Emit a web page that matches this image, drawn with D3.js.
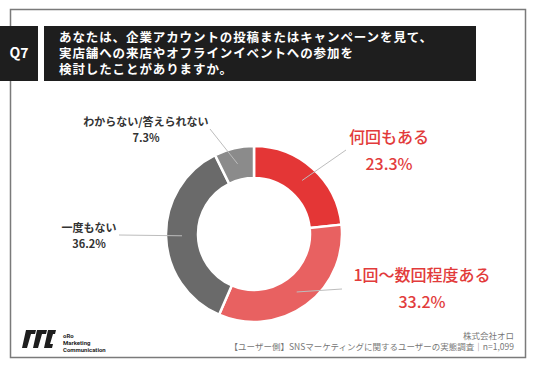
<!DOCTYPE html>
<html>
<head>
<meta charset="utf-8">
<script src="https://cdn.jsdelivr.net/npm/d3@7"></script>
<style>
  body { margin: 0; background: #fff; }
  svg { display: block; font-family: "Noto Sans CJK JP", "Noto Sans", sans-serif; }
</style>
</head>
<body>
<svg width="536" height="371"></svg>
<script>
var categories = ["何回もある", "1回〜数回程度ある", "一度もない", "わからない/答えられない"];
var values = [23.3, 33.2, 36.2, 7.3];
var colors = ["#e43636", "#e86161", "#6a6a6a", "#8b8b8b"];
var titleLines = [
  "あなたは、企業アカウントの投稿またはキャンペーンを見て、",
  "実店舗への来店やオフラインイベントへの参加を",
  "検討したことがありますか。"
];
var footerLines = ["株式会社オロ", "【ユーザー側】SNSマーケティングに関するユーザーの実態調査｜n=1,099"];

var svg = d3.select("svg");
var cx = 254, cy = 234, outerR = 88, innerR = 56;

// frame
svg.append("rect")
  .attr("x", 10.5).attr("y", 9.5)
  .attr("width", 515).attr("height", 348)
  .attr("fill", "none").attr("stroke", "#7a7a7a").attr("stroke-width", 1.5);

// Q7 tag + title bar
svg.append("rect").attr("x", 0).attr("y", 26).attr("width", 38).attr("height", 55).attr("fill", "#1e1e1e");
svg.append("text")
  .attr("x", 19).attr("y", 58)
  .attr("text-anchor", "middle")
  .attr("fill", "#fff").attr("font-weight", "bold").attr("font-size", 14)
  .text("Q7");
svg.append("rect").attr("x", 44).attr("y", 26).attr("width", 432).attr("height", 55).attr("fill", "#1e1e1e");
svg.append("g").selectAll("text")
  .data(titleLines)
  .enter().append("text")
  .attr("x", 59)
  .attr("y", function(d, i) { return 42 + i * 16; })
  .attr("fill", "#fff").attr("font-weight", "bold").attr("font-size", 12.5)
  .attr("letter-spacing", 0.9)
  .text(function(d) { return d; });

// donut
var pie = d3.pie().sort(null).value(function(d) { return d; });
var arcs = pie(values);
var arc = d3.arc().innerRadius(innerR).outerRadius(outerR);
var g = svg.append("g").attr("transform", "translate(" + cx + "," + cy + ")");

g.selectAll("path")
  .data(arcs)
  .enter().append("path")
  .attr("d", arc)
  .attr("fill", function(d, i) { return colors[i]; })
  .attr("stroke", "#fff")
  .attr("stroke-width", 2.5);

// labels
var labelPos = [
  {x: 389, y: 143, lx: 346, ly: 150, red: true},
  {x: 422, y: 281, lx: 342, ly: 289, red: true},
  {x: 89, y: 232, lx: 119, ly: 235, red: false},
  {x: 146, y: 126, lx: 210, ly: 129, red: false}
];
var mid = d3.arc().innerRadius(72).outerRadius(72);

arcs.forEach(function(d, i) {
  var p = mid.centroid(d);
  var L = labelPos[i];
  svg.append("line")
    .attr("x1", cx + p[0]).attr("y1", cy + p[1])
    .attr("x2", L.lx).attr("y2", L.ly)
    .attr("stroke", "#bdbdbd").attr("stroke-width", 1);
  var t = svg.append("text")
    .attr("text-anchor", "middle")
    .attr("font-weight", L.red ? 500 : "bold")
    .attr("fill", L.red ? "#e23b3b" : "#333")
    .attr("font-size", L.red ? 16 : 11);
  t.append("tspan").attr("x", L.x).attr("y", L.y).text(categories[i]);
  t.append("tspan").attr("x", L.x).attr("y", L.y + (L.red ? 27 : 16)).text(values[i].toFixed(1) + "%");
});

// footer
svg.append("g").selectAll("text")
  .data(footerLines)
  .enter().append("text")
  .attr("x", 514)
  .attr("y", function(d, i) { return 339 + i * 11; })
  .attr("text-anchor", "end")
  .attr("fill", "#777").attr("font-size", 8.5)
  .text(function(d) { return d; });

// logo
var logo = svg.append("g").attr("transform", "translate(22,330)").attr("fill", "#1e1e1e");
logo.append("path").attr("d", "M4,0 L14,0 L13,4 L9,4 L5,18 L0,18 Z");
logo.append("path").attr("d", "M15,0 L25,0 L24,4 L20,4 L16,18 L11,18 Z");
logo.append("path").attr("d", "M26,0 L34,0 L33,4 L31,4 L28,14 L31,14 L30,18 L22,18 Z");
var lt = svg.append("g").attr("font-family", "Roboto, sans-serif").attr("font-weight", "bold").attr("fill", "#1e1e1e").attr("font-size", 6);
lt.append("text").attr("x", 63).attr("y", 338).text("oRo");
lt.append("text").attr("x", 63).attr("y", 345).text("Marketing");
lt.append("text").attr("x", 63).attr("y", 352).text("Communication");
</script>
</body>
</html>
